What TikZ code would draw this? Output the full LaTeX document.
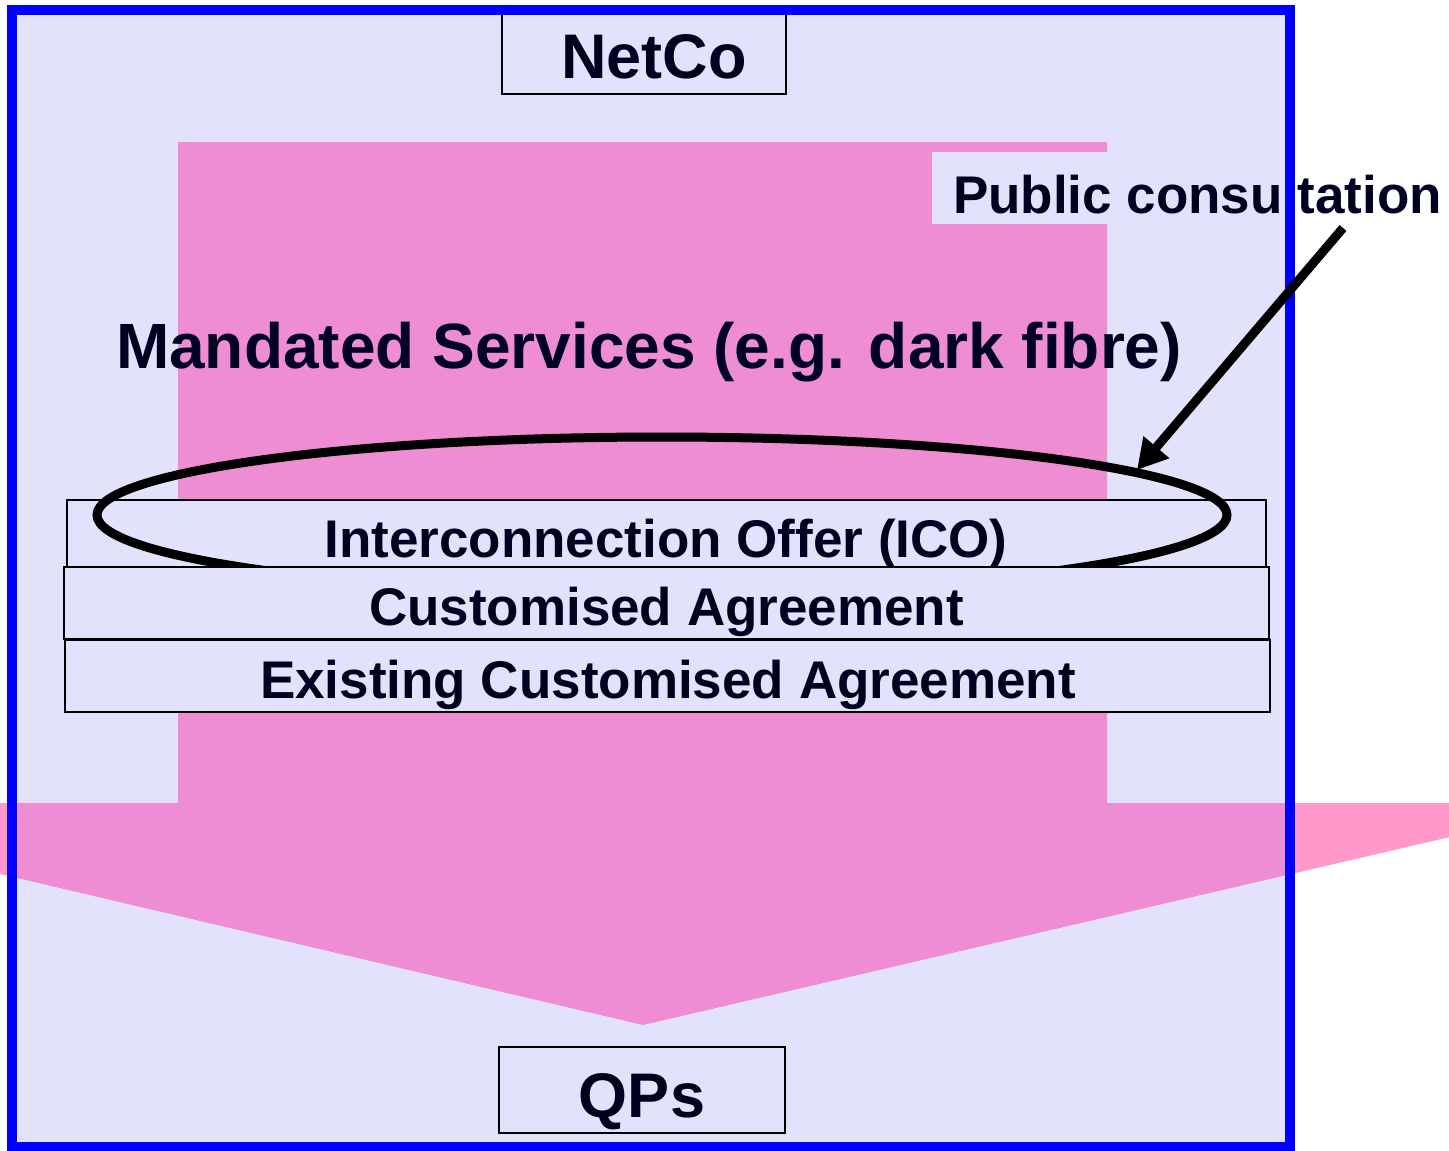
\documentclass[tikz,border=0pt]{standalone}
\usepackage{fontspec}
\setmainfont{Liberation Sans}
\usetikzlibrary{arrows.meta,shapes.geometric}
\definecolor{frameblue}{RGB}{0,0,255}
\definecolor{pinkarrow}{RGB}{255,153,204}
\definecolor{pinkin}{RGB}{238,140,212}
\definecolor{lav}{RGB}{226,226,252}
\definecolor{ink}{RGB}{0,0,35}
\newlength\pcw
\newlength\pcl
\newcommand\pcfont{\bfseries\fontsize{53}{60}\selectfont}
\begin{document}
\settowidth{\pcw}{\pcfont Public consu}%
\settowidth{\pcl}{\pcfont l}%
\addtolength{\pcw}{0.5\pcl}%
\begin{tikzpicture}[x=1pt,y=-1pt,
  box/.style={draw=black, line width=2pt, fill=lav, rectangle, inner sep=0pt},
  lbl/.style={text=ink, font=\pcfont, inner sep=0pt, anchor=base},
  biglbl/.style={text=ink, font=\bfseries\fontsize{63}{70}\selectfont, inner sep=0pt, anchor=base},
  arr/.style={draw=black, line width=9pt, -{Triangle[length=30pt,width=32pt]}}
]
\useasboundingbox (0,0) rectangle (1449,1151);
\fill[white] (0,0) rectangle (1449,1151);
% big pink arrow (outside the frame)
\begin{scope}
  \clip (0,0) rectangle (1449,1151);
  \fill[pinkarrow] (178,142) -- (1107,142) -- (1107,803) -- (1596,803) -- (643,1025)
     -- (-302,803) -- (178,803) -- cycle;
\end{scope}
% frame interior
\fill[lav] (12,10) rectangle (1290,1147);
% big pink arrow (inside the frame)
\begin{scope}
  \clip (12,10) rectangle (1290,1147);
  \fill[pinkin] (178,142) -- (1107,142) -- (1107,803) -- (1596,803) -- (643,1025)
     -- (-302,803) -- (178,803) -- cycle;
\end{scope}
% public consultation label
\fill[lav] (932,152) rectangle (1290,224);
\coordinate (pcl) at (1290,213);
\node[lbl, anchor=base west, xshift=-\pcw] (pc) at (pcl) {Public consultation};
% NetCo
\node[box, minimum width=284pt, minimum height=80pt] (netco) at (644,54) {};
\node[biglbl] (netcotext) at (654,78) {NetCo};
% Mandated services
\node[biglbl, font=\bfseries\fontsize{64}{70}\selectfont] (mandated) at (649,368) {Mandated Services (e.g. dark fibre)};
% ICO
\node[box, minimum width=1199pt, minimum height=67pt] (ico) at (666,533) {};
\node[lbl] (icotext) at (666,557) {Interconnection Offer (ICO)};
% ellipse
\node[ellipse, draw=black, line width=9pt, minimum width=1130pt, minimum height=156pt, inner sep=0pt, outer sep=0pt] (ell) at (662,515) {};
% Customised agreement
\node[box, minimum width=1205pt, minimum height=72pt] (cust) at (666.5,603) {};
\node[lbl] (custtext) at (666.5,625) {Customised Agreement};
% Existing customised agreement
\node[box, minimum width=1205pt, minimum height=72pt] (exist) at (667.5,676) {};
\node[lbl] (existtext) at (668,698) {Existing Customised Agreement};
% QPs
\node[box, minimum width=286pt, minimum height=86pt] (qps) at (642,1090) {};
\node[biglbl] (qpstext) at (642,1117) {QPs};
% frame
\draw[frameblue, line width=10pt] (12,10) rectangle (1290,1147);
% arrow
\coordinate (pcstart) at (1343,228);
\coordinate (pctip) at (1137,470);
\draw[arr] (pcstart) -- (pctip);
\end{tikzpicture}
\end{document}
